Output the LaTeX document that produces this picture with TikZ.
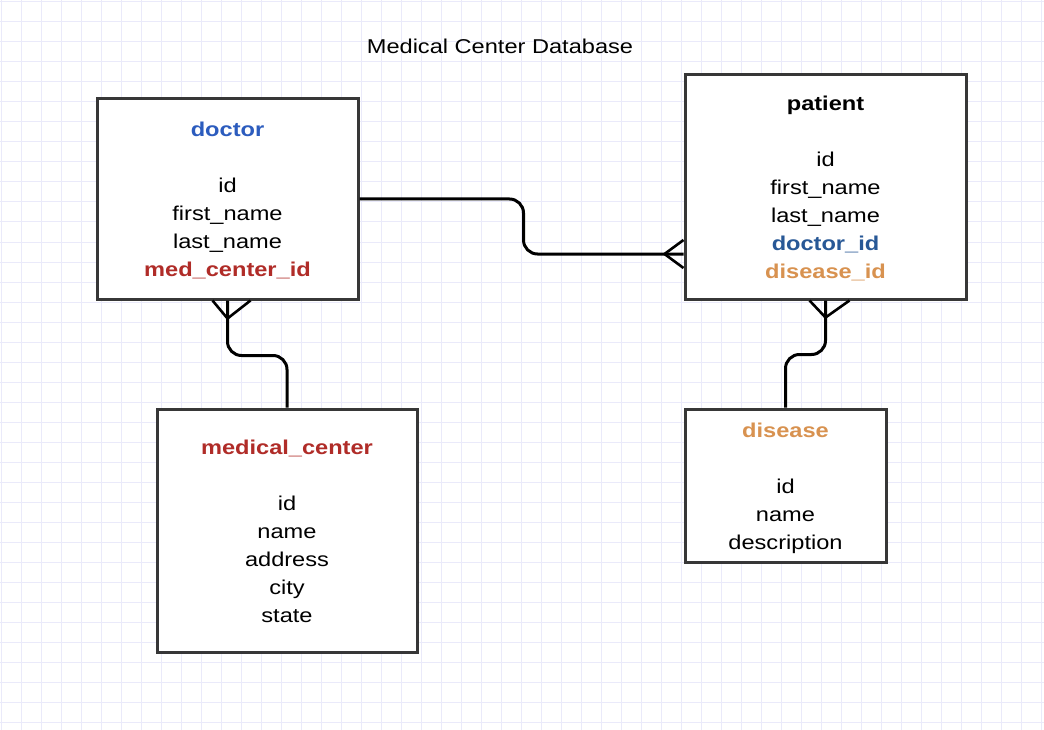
\documentclass[tikz,border=0pt]{standalone}
\usepackage{fontspec}
\setmainfont{Liberation Sans}
\usepackage{graphicx}
\definecolor{gridc}{RGB}{234,234,250}
\definecolor{boxgray}{RGB}{55,55,55}
\definecolor{docblue}{RGB}{44,92,190}
\definecolor{idblue}{RGB}{40,88,150}
\definecolor{medred}{RGB}{176,44,40}
\definecolor{disorange}{RGB}{216,146,80}
\newcommand\ertext[1]{\raisebox{-2pt}[\height][\depth]{\scalebox{1.18}[1]{\begin{tabular}{@{}c@{}}#1\end{tabular}}}}
\tikzset{
  gridline/.style={draw=gridc, line width=1pt},
  entity/.style={draw=boxgray, line width=3pt, fill=white, inner sep=0pt,
    font=\fontsize{20}{28}\selectfont},
  link/.style={line width=3pt, rounded corners=14pt},
  foot/.style={line width=2.6pt},
}
\begin{document}
\begin{tikzpicture}[x=1pt,y=-1pt]
\fill[white] (0,0) rectangle (1044,730);
\useasboundingbox (0,0) rectangle (1044,730);
\foreach \x in {1,21,...,1041} \draw[gridline] (\x,0) -- (\x,730);
\foreach \y in {2,22,...,722} \draw[gridline] (0,\y) -- (1044,\y);

\node[font=\fontsize{20}{22}\selectfont] (title) at (500,46.5) {\scalebox{1.18}[1]{Medical Center Database}};

\node[entity, minimum width=261pt, minimum height=200pt] (doctor) at (227.5,199)
  {\ertext{\textcolor{docblue}{\textbf{doctor}}\\ \\ id\\ first\_name\\ last\_name\\ \textcolor{medred}{\textbf{med\_center\_id}}}};
\node[entity, minimum width=281pt, minimum height=224pt] (patient) at (825.5,187)
  {\ertext{\textbf{patient}\\ \\ id\\ first\_name\\ last\_name\\ \textcolor{idblue}{\textbf{doctor\_id}}\\ \textcolor{disorange}{\textbf{disease\_id}}}};
\node[entity, minimum width=260pt, minimum height=243pt] (mc) at (287,530.5)
  {\ertext{\textcolor{medred}{\textbf{medical\_center}}\\ \\ id\\ name\\ address\\ city\\ state}};
\node[entity, minimum width=201pt, minimum height=153pt] (disease) at (785.5,485.5)
  {\ertext{\textcolor{disorange}{\textbf{disease}}\\ \\ id\\ name\\ description}};

\coordinate (pw) at ([yshift=-67pt]patient.west);

% doctor -> patient
\draw[link] (doctor.east) -- ++(164,0) |- (pw);
\draw[foot] ([yshift=14pt]pw) -- ([xshift=-19pt]pw) -- ([yshift=-14pt]pw);

% doctor -> medical_center
\draw[link] (doctor.south) -- ++(0,55) -| (mc.north);
\draw[foot] ([xshift=-15pt]doctor.south) -- ([yshift=-18pt]doctor.south) -- ([xshift=23pt]doctor.south);

% patient -> disease
\draw[link] (patient.south) -- ++(0,54) -| (disease.north);
\draw[foot] ([xshift=-16pt]patient.south) -- ([yshift=-17pt]patient.south) -- ([xshift=24pt]patient.south);
\end{tikzpicture}
\end{document}
